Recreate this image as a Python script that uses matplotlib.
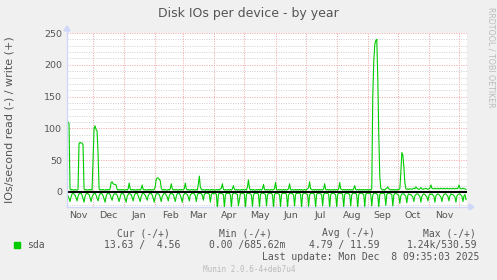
import matplotlib
matplotlib.use("Agg")
import matplotlib.pyplot as plt
import numpy as np
from matplotlib.lines import Line2D
from matplotlib.patches import Polygon, Rectangle

W, H = 497, 280

# daily values, 2024-11-05 .. 2025-12-08 (one row per week)
write_ios = [
    110, 110, 108, 5, 3, 4, 3,
    3, 4, 3, 3, 4, 76, 78,
    77, 77, 74, 5, 3, 4, 3,
    3, 4, 3, 4, 3, 50, 100,
    104, 98, 96, 60, 5, 3, 4,
    3, 4, 3, 3, 4, 3, 4,
    3, 5, 15, 16, 13, 12, 12,
    11, 4, 3, 4, 3, 4, 3,
    4, 3, 3, 4, 3, 5, 14,
    5, 3, 4, 3, 4, 3, 3,
    4, 3, 4, 3, 5, 11, 4,
    3, 4, 3, 3, 4, 3, 4,
    3, 4, 3, 4, 8, 20, 22,
    22, 20, 18, 6, 3, 4, 3,
    4, 3, 3, 4, 3, 5, 13,
    5, 3, 4, 3, 4, 3, 3,
    4, 3, 4, 3, 4, 5, 14,
    5, 3, 4, 3, 3, 4, 3,
    4, 3, 3, 4, 3, 12, 25,
    8, 4, 3, 4, 3, 3, 4,
    3, 4, 3, 3, 4, 3, 4,
    3, 3, 4, 3, 4, 3, 5,
    6, 13, 4, 3, 4, 3, 3,
    4, 3, 4, 3, 5, 10, 4,
    3, 4, 3, 4, 3, 3, 4,
    3, 4, 3, 4, 3, 8, 19,
    6, 3, 4, 3, 4, 3, 3,
    4, 3, 4, 3, 4, 3, 5,
    12, 4, 3, 4, 3, 4, 3,
    3, 4, 3, 4, 5, 15, 4,
    3, 4, 3, 4, 3, 3, 4,
    3, 4, 3, 4, 5, 13, 4,
    3, 4, 3, 3, 4, 3, 4,
    3, 4, 3, 4, 3, 3, 4,
    3, 4, 5, 7, 16, 5, 4,
    3, 4, 3, 4, 3, 4, 3,
    4, 3, 4, 3, 5, 13, 4,
    3, 4, 3, 4, 3, 3, 4,
    3, 4, 3, 4, 3, 5, 15,
    5, 4, 3, 4, 3, 4, 3,
    4, 3, 4, 3, 4, 3, 5,
    10, 4, 3, 4, 3, 4, 3,
    4, 3, 4, 3, 4, 3, 4,
    3, 4, 3, 5, 150, 205, 232,
    238, 240, 180, 90, 25, 6, 4,
    3, 4, 3, 5, 6, 8, 5,
    4, 3, 4, 3, 4, 3, 4,
    3, 4, 4, 5, 30, 62, 58,
    40, 15, 5, 4, 5, 4, 5,
    5, 4, 5, 6, 5, 8, 6,
    5, 4, 5, 7, 5, 4, 5,
    5, 6, 5, 4, 5, 6, 11,
    6, 5, 5, 6, 5, 5, 6,
    5, 5, 6, 5, 5, 6, 5,
    5, 6, 5, 5, 6, 5, 5,
    6, 5, 5, 6, 5, 6, 11,
    6, 5, 5, 6, 5, 5, 4,
]

read_ios = [
    4, 6, 10, 15, 8, 3, 2,
    3, 5, 9, 14, 7, 3, 2,
    2, 5, 10, 16, 7, 3, 2,
    3, 4, 9, 15, 8, 4, 2,
    2, 5, 10, 14, 6, 3, 2,
    3, 6, 11, 16, 7, 3, 2,
    2, 4, 9, 13, 6, 3, 3,
    3, 5, 10, 15, 8, 3, 2,
    2, 5, 11, 16, 7, 4, 2,
    3, 4, 9, 14, 6, 3, 2,
    2, 6, 10, 15, 7, 3, 2,
    3, 5, 9, 13, 6, 3, 2,
    2, 5, 10, 16, 8, 3, 2,
    3, 4, 9, 15, 7, 4, 2,
    2, 5, 8, 14, 6, 3, 2,
    3, 4, 9, 15, 7, 3, 2,
    2, 5, 10, 16, 6, 3, 2,
    3, 4, 8, 14, 5, 3, 2,
    2, 3, 6, 15, 5, 2, 2,
    2, 3, 5, 13, 4, 2, 2,
    2, 2, 4, 16, 4, 2, 3,
    2, 2, 4, 26, 4, 2, 2,
    2, 3, 4, 24, 5, 2, 2,
    2, 2, 5, 25, 4, 2, 2,
    2, 3, 4, 22, 12, 2, 2,
    2, 2, 4, 26, 4, 2, 2,
    2, 3, 5, 23, 5, 2, 2,
    2, 2, 4, 24, 4, 2, 2,
    2, 3, 4, 22, 5, 2, 2,
    2, 2, 5, 25, 4, 2, 2,
    2, 3, 4, 23, 4, 2, 2,
    2, 2, 4, 24, 5, 2, 2,
    2, 3, 5, 22, 4, 2, 2,
    2, 2, 4, 25, 4, 2, 2,
    2, 3, 4, 23, 5, 2, 2,
    2, 2, 5, 24, 4, 2, 2,
    2, 3, 4, 22, 4, 2, 2,
    2, 2, 4, 25, 5, 2, 2,
    2, 3, 5, 23, 4, 2, 2,
    2, 2, 4, 24, 4, 2, 2,
    2, 3, 4, 22, 5, 2, 2,
    2, 2, 5, 25, 4, 2, 2,
    2, 3, 4, 23, 4, 2, 2,
    2, 2, 4, 22, 5, 2, 2,
    2, 3, 5, 24, 4, 2, 2,
    2, 2, 4, 21, 4, 2, 2,
    2, 3, 4, 22, 5, 2, 2,
    3, 4, 6, 18, 6, 3, 3,
    3, 5, 7, 17, 5, 3, 4,
    4, 6, 8, 15, 6, 4, 3,
    3, 5, 7, 16, 7, 4, 3,
    4, 6, 8, 14, 6, 3, 4,
    3, 5, 7, 16, 6, 4, 3,
    4, 6, 8, 15, 7, 4, 3,
    3, 5, 7, 14, 6, 3, 4,
    4, 6, 8, 16, 6, 4, 3,
    3, 5, 7, 15, 6, 4, 12,
]

month_starts = ['2024-12-01', '2025-01-01', '2025-02-01', '2025-03-01', '2025-04-01',
                '2025-05-01', '2025-06-01', '2025-07-01', '2025-08-01', '2025-09-01',
                '2025-10-01', '2025-11-01', '2025-12-01']
month_label_pos = ['2024-11-16', '2024-12-16', '2025-01-16', '2025-02-16', '2025-03-16',
                   '2025-04-16', '2025-05-16', '2025-06-16', '2025-07-16', '2025-08-16',
                   '2025-09-16', '2025-10-16', '2025-11-16']
month_labels = ['Nov', 'Dec', 'Jan', 'Feb', 'Mar', 'Apr', 'May', 'Jun', 'Jul', 'Aug',
                'Sep', 'Oct', 'Nov']

legend_headers = ['Cur (-/+)', 'Min (-/+)', 'Avg (-/+)', 'Max (-/+)']
legend_values = ['13.63 /  4.56', '0.00 /685.62m', '4.79 / 11.59', '1.24k/530.59']

days = np.datetime64('2024-11-05') + np.arange(len(write_ios))


def fx(px):
    return px / W


def fy(py):
    return 1 - py / H


TXT = '#555555'
AXC = '#CFD6F8'

fig = plt.figure(figsize=(W / 100, H / 100), dpi=100)
fig.patch.set_facecolor('#F0F0F0')

ax = fig.add_axes([fx(67), fy(207), 400 / W, 174 / H])
ax.set_facecolor('white')
ax.set_xlim(np.datetime64('2024-11-05'), np.datetime64('2025-12-09'))
ax.set_ylim(-23.6, 250)

# grid
dot = (0, (1, 1.4))
for v in range(-20, 251, 10):
    if v % 50:
        ax.axhline(v, color='#D2D2D2', lw=0.72, ls=dot, zorder=1)
for v in range(0, 251, 50):
    ax.axhline(v, color='#F0A8A8', lw=0.72, ls=dot, zorder=1)
for m in month_starts:
    ax.axvline(np.datetime64(m), color='#F0A8A8', lw=0.72, ls=dot, zorder=1)

ax.plot(days, write_ios, color='#00CC00', lw=0.8, zorder=3)
ax.plot(days, -np.array(read_ios), color='#00CC00', lw=0.8, zorder=3)
ax.axhline(0, color='black', lw=1.5, zorder=4)

for s in ax.spines.values():
    s.set_visible(False)

ax.set_yticks(range(0, 251, 50))
ax.tick_params(axis='y', length=0, pad=3.5, labelsize=6.8, labelcolor=TXT)
ax.set_xticks([np.datetime64(m) for m in month_starts])
ax.set_xticklabels([])
ax.set_xticks([np.datetime64(m) for m in month_label_pos], minor=True)
ax.set_xticklabels(month_labels, minor=True)
ax.tick_params(axis='x', which='both', length=0, pad=3, labelsize=6.8, labelcolor=TXT)

# axes with arrows
fig.add_artist(Line2D([fx(67), fx(67)], [fy(207), fy(29)], color=AXC, lw=0.9))
fig.add_artist(Line2D([fx(67), fx(470)], [fy(207), fy(207)], color=AXC, lw=0.9))
fig.add_artist(Polygon([(fx(64), fy(31)), (fx(70), fy(31)), (fx(67), fy(26))],
                       closed=True, color=AXC, transform=fig.transFigure))
fig.add_artist(Polygon([(fx(469), fy(204)), (fx(469), fy(210)), (fx(474), fy(207))],
                       closed=True, color=AXC, transform=fig.transFigure))

fig.text(fx(248.5), fy(13.5), 'Disk IOs per device - by year', ha='center', va='center',
         fontsize=9, color=TXT)
fig.text(fx(10), fy(120), 'IOs/second read (-) / write (+)', rotation=90,
         ha='center', va='center', fontsize=8, color=TXT)
fig.text(fx(491), fy(57), 'RRDTOOL / TOBI OETIKER', rotation=270, ha='center',
         va='center', fontsize=5.7, color='#BBBBBB')

# legend
fig.add_artist(Rectangle((fx(14), fy(248)), 6 / W, 6 / H, color='#00CC00',
                         transform=fig.transFigure))
mono = dict(family='DejaVu Sans Mono', fontsize=7, color=TXT, va='center', ha='left')
fig.text(fx(27), fy(245), 'sda', **mono)
for x, t in zip([117, 219, 322, 423], legend_headers):
    fig.text(fx(x), fy(233), t, **mono)
for x, t in zip([104, 209, 309, 407], legend_values):
    fig.text(fx(x), fy(245), t, **mono)
fig.text(fx(262), fy(257), 'Last update: Mon Dec  8 09:35:03 2025', **mono)
fig.text(fx(249), fy(269), 'Munin 2.0.6-4+deb7u4', family='DejaVu Sans Mono',
         fontsize=5.5, color='#BBBBBB', ha='center', va='center')

fig.savefig('out.png', dpi=100, facecolor=fig.get_facecolor())
